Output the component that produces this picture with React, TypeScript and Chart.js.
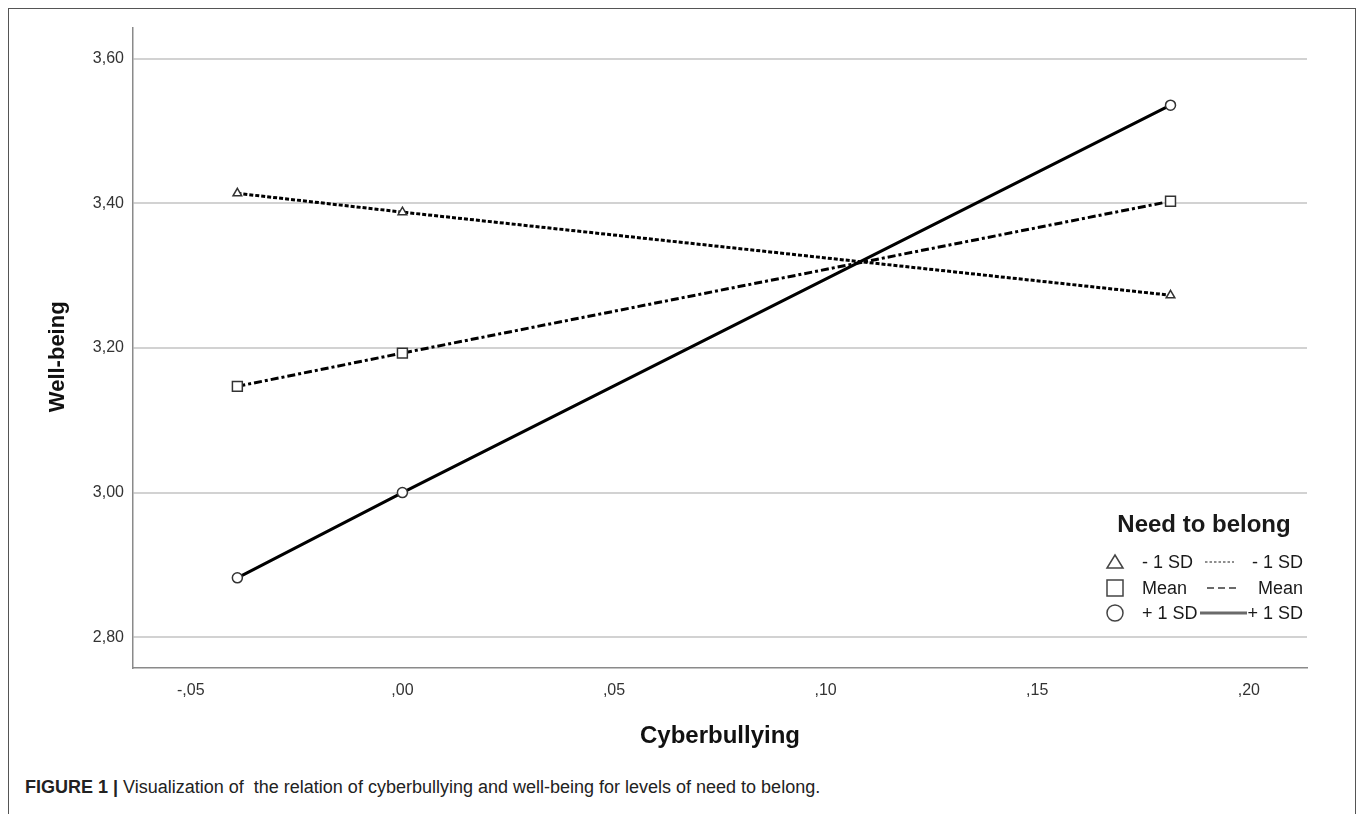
import React, { useEffect, useRef } from "react";
import { Chart, registerables } from "chart.js";

Chart.register(...registerables);

// ---- data ----
const xValues = [-0.039, 0.0, 0.1815];
const lowSD = [3.414, 3.388, 3.273];
const meanNB = [3.147, 3.193, 3.403];
const highSD = [2.882, 3.0, 3.536];
const yTicks = [2.8, 3.0, 3.2, 3.4, 3.6];
const xTicks = [-0.05, 0.0, 0.05, 0.1, 0.15, 0.2];
const seriesLabels = ["- 1 SD", "Mean", "+ 1 SD"];
const legendTitle = "Need to belong";
const xTitle = "Cyberbullying";
const yTitle = "Well-being";

const FONT = "'Liberation Sans', Arial, Helvetica, sans-serif";

const fmt = (v: number, d: number) => {
  const s = Math.abs(v).toFixed(d).replace(/^0/, "").replace(".", ",");
  return (v < -1e-9 ? "-" : "") + s;
};

const toPts = (ys: number[]) => ys.map((y, i) => ({ x: xValues[i], y }));

const legendPlugin = {
  id: "nbLegend",
  afterDraw(chart: any) {
    const ctx = chart.ctx as CanvasRenderingContext2D;
    const area = chart.chartArea;
    ctx.save();
    // y-axis title (drawn slightly below the plot centre, as in the reference)
    ctx.fillStyle = "#111";
    ctx.font = `bold 22px ${FONT}`;
    ctx.textAlign = "center";
    ctx.textBaseline = "middle";
    ctx.translate(49, (area.top + area.bottom) / 2 + 9);
    ctx.rotate(-Math.PI / 2);
    ctx.fillText(yTitle, 0, 0);
    ctx.setTransform(1, 0, 0, 1, 0, 0);

    ctx.fillStyle = "#1a1a1a";
    ctx.textBaseline = "middle";
    ctx.font = `bold 24px ${FONT}`;
    ctx.textAlign = "center";
    ctx.fillText(legendTitle, 1195, 516);

    const rows = [553, 579, 604];
    const markX = 1106;
    const lines = [
      { x0: 1196, x1: 1225, dash: [2.5, 2], w: 1.5 },
      { x0: 1198, x1: 1230, dash: [7, 4], w: 1.8 },
      { x0: 1191, x1: 1238, dash: [] as number[], w: 3 },
    ];
    ctx.font = `18px ${FONT}`;
    rows.forEach((y, i) => {
      // marker
      ctx.strokeStyle = "#444";
      ctx.lineWidth = 1.5;
      ctx.setLineDash([]);
      ctx.beginPath();
      if (i === 0) {
        ctx.moveTo(markX, y - 7);
        ctx.lineTo(markX + 8, y + 6);
        ctx.lineTo(markX - 8, y + 6);
        ctx.closePath();
      } else if (i === 1) {
        ctx.rect(markX - 8, y - 8, 16, 16);
      } else {
        ctx.arc(markX, y, 8, 0, Math.PI * 2);
      }
      ctx.stroke();
      // labels
      ctx.fillStyle = "#1a1a1a";
      ctx.textAlign = "left";
      ctx.fillText(seriesLabels[i], 1133, y + 1);
      ctx.textAlign = "right";
      ctx.fillText(seriesLabels[i], 1294, y + 1);
      // line sample
      ctx.strokeStyle = "#6a6a6a";
      ctx.lineWidth = lines[i].w;
      ctx.setLineDash(lines[i].dash);
      ctx.beginPath();
      ctx.moveTo(lines[i].x0, y);
      ctx.lineTo(lines[i].x1, y);
      ctx.stroke();
    });
    ctx.restore();
  },
};

function ChartView() {
  const ref = useRef<HTMLCanvasElement | null>(null);
  useEffect(() => {
    if (!ref.current) return;
    const common = {
      borderColor: "#000",
      borderWidth: 3,
      pointBorderColor: "#333",
      pointBackgroundColor: "#fff",
      pointBorderWidth: 1.5,
      tension: 0,
      fill: false,
    };
    const chart = new Chart(ref.current, {
      type: "line",
      data: {
        datasets: [
          {
            ...common,
            label: seriesLabels[0],
            data: toPts(lowSD),
            borderDash: [4, 2],
            pointStyle: "triangle",
            pointRadius: 5,
          },
          {
            ...common,
            label: seriesLabels[1],
            data: toPts(meanNB),
            borderDash: [8, 3, 3, 3],
            pointStyle: "rect",
            pointRadius: 7,
          },
          {
            ...common,
            label: seriesLabels[2],
            data: toPts(highSD),
            borderDash: [],
            pointStyle: "circle",
            pointRadius: 5,
          },
        ],
      },
      options: {
        animation: false,
        responsive: false,
        maintainAspectRatio: false,
        layout: { padding: { top: 18, right: 48, bottom: 0, left: 0 } },
        plugins: {
          legend: { display: false },
          tooltip: { enabled: false },
        },
        scales: {
          x: {
            type: "linear",
            min: -0.06366,
            max: 0.21375,
            afterBuildTicks: (s: any) => {
              s.ticks = xTicks.map((v) => ({ value: v }));
            },
            afterFit: (s: any) => {
              s.height = 101;
            },
            ticks: {
              callback: (v: any) => fmt(Number(v), 2),
              font: { family: FONT, size: 16 },
              color: "#333",
              padding: 13,
              maxRotation: 0,
              autoSkip: false,
            },
            grid: { display: false, drawTicks: false, tickLength: 0 },
            border: { display: true, color: "#8a8a8a", width: 1.5 },
            title: {
              display: true,
              text: xTitle,
              font: { family: FONT, size: 24, weight: "bold" },
              color: "#111",
              padding: { top: 0, bottom: 18 },
            },
          },
          y: {
            type: "linear",
            min: 2.7573,
            max: 3.6433,
            afterBuildTicks: (s: any) => {
              s.ticks = yTicks.map((v) => ({ value: v }));
            },
            afterFit: (s: any) => {
              s.width = 124;
            },
            ticks: {
              callback: (v: any) => fmt(Number(v), 2),
              font: { family: FONT, size: 16 },
              color: "#333",
              padding: 9,
              autoSkip: false,
            },
            grid: { color: "#d2d2d2", lineWidth: 2, drawTicks: false, tickLength: 0 },
            border: { display: true, color: "#8a8a8a", width: 1.5 },
            title: { display: false, text: yTitle },
          },
        },
      },
      plugins: [legendPlugin],
    } as any);
    return () => chart.destroy();
  }, []);
  return (
    <canvas
      ref={ref}
      width={1346}
      height={760}
      style={{ position: "absolute", left: 9, top: 9, width: 1346, height: 760 }}
    />
  );
}

export default function App() {
  return (
    <div
      style={{
        position: "fixed",
        left: 0,
        top: 0,
        width: 1357,
        height: 814,
        overflow: "hidden",
        background: "#fff",
      }}
    >
      <div
        style={{
          position: "absolute",
          left: 8,
          top: 8,
          width: 1346,
          height: 900,
          border: "1px solid #555",
          boxSizing: "content-box",
        }}
      />
      <ChartView />
      <div
        style={{
          position: "absolute",
          left: 25,
          top: 777,
          fontFamily: FONT,
          fontSize: 18,
          lineHeight: "20px",
          color: "#222",
          whiteSpace: "pre",
        }}
      >
        <b>FIGURE 1 | </b>
        {"Visualization of  the relation of cyberbullying and well-being for levels of need to belong."}
      </div>
    </div>
  );
}
